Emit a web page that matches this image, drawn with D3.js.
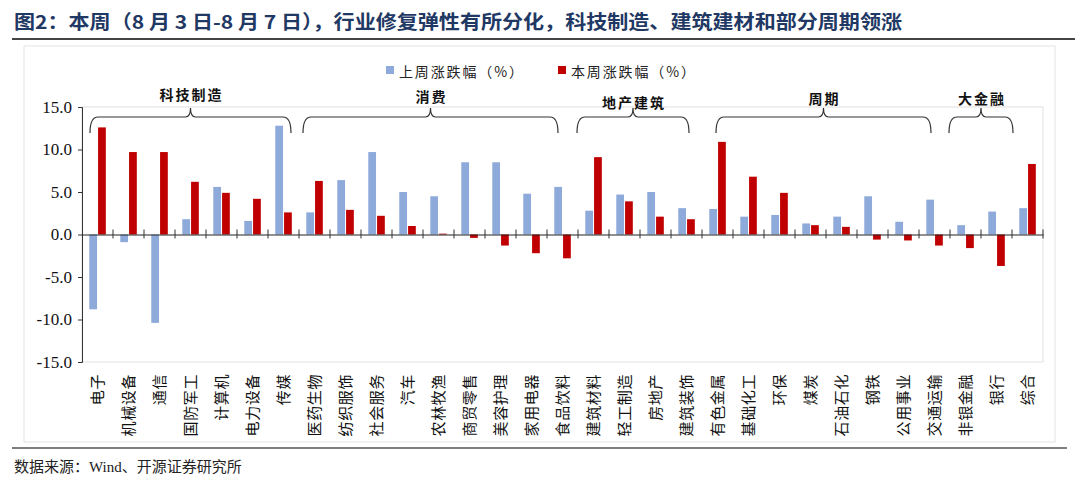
<!DOCTYPE html>
<html>
<head>
<meta charset="utf-8">
<script src="https://cdn.jsdelivr.net/npm/d3@7"></script>
<style>
  body { margin: 0; background: #fff; }
  svg { display: block; }
</style>
</head>
<body>
<div id="chart"></div>
<script>
// industries, left to right
const industries = ['电子', '机械设备', '通信', '国防军工', '计算机', '电力设备', '传媒',
  '医药生物', '纺织服饰', '社会服务', '汽车', '农林牧渔', '商贸零售', '美容护理', '家用电器', '食品饮料',
  '建筑材料', '轻工制造', '房地产', '建筑装饰',
  '有色金属', '基础化工', '环保', '煤炭', '石油石化', '钢铁', '公用事业', '交通运输',
  '非银金融', '银行', '综合'];

const seriesNames = ['上周涨跌幅（%）', '本周涨跌幅（%）'];

const lastWeek = [-8.8, -0.9, -10.4, 1.8, 5.6, 1.6, 12.8,
  2.6, 6.4, 9.7, 5.0, 4.5, 8.5, 8.5, 4.8, 5.6,
  2.8, 4.7, 5.0, 3.1,
  3.0, 2.1, 2.3, 1.3, 2.1, 4.5, 1.5, 4.1,
  1.1, 2.7, 3.1];

const thisWeek = [12.6, 9.7, 9.7, 6.2, 4.9, 4.2, 2.6,
  6.3, 2.9, 2.2, 1.0, 0.1, -0.4, -1.3, -2.2, -2.8,
  9.1, 3.9, 2.1, 1.8,
  10.9, 6.8, 4.9, 1.1, 0.9, -0.6, -0.7, -1.3,
  -1.6, -3.7, 8.3];

const yTicks = [-15, -10, -5, 0, 5, 10, 15];

// sector groups: name, first and last industry
const groupNames = ['科技制造', '消费', '地产建筑', '周期', '大金融'];
const groupFirst = ['电子', '医药生物', '建筑材料', '有色金属', '非银金融'];
const groupLast = ['传媒', '食品饮料', '建筑装饰', '交通运输', '银行'];

// bracket insets (px) from the band edges, and label baseline tweaks
const bracketInsets = [[8, 8], [4, 20], [-1, 13], [14, 19], [-1, -1]];
const labelShift = [0, 2, 8, 4, 4];

const titleText = '图2：本周（8 月 3 日-8 月 7 日），行业修复弹性有所分化，科技制造、建筑建材和部分周期领涨';
const sourceText = '数据来源：Wind、开源证券研究所';

const colors = ['#8eaadb', '#c00000'];
const serif = '"Liberation Serif", "Noto Sans CJK SC", serif';
const cjk = '"Noto Sans CJK SC", sans-serif';

const width = 1080;
const height = 485;

const svg = d3.select('#chart').append('svg')
  .attr('width', width)
  .attr('height', height);

// title + rules
svg.append('text')
  .attr('x', 14)
  .attr('y', 29)
  .attr('font-family', cjk)
  .attr('font-weight', 'bold')
  .attr('font-size', 19)
  .attr('fill', '#1f3864')
  .attr('textLength', 888)
  .attr('lengthAdjust', 'spacingAndGlyphs')
  .text(titleText);

svg.append('line')
  .attr('x1', 12).attr('x2', 1075)
  .attr('y1', 39).attr('y2', 39)
  .attr('stroke', '#444').attr('stroke-width', 2);

// outer chart frame
svg.append('rect')
  .attr('x', 24).attr('y', 46)
  .attr('width', 1031).attr('height', 396)
  .attr('fill', 'none')
  .attr('stroke', '#e3e3e3');

svg.append('line')
  .attr('x1', 12).attr('x2', 1067)
  .attr('y1', 448).attr('y2', 448)
  .attr('stroke', '#555').attr('stroke-width', 1.5);

svg.append('text')
  .attr('x', 14)
  .attr('y', 472)
  .attr('font-family', serif)
  .attr('font-size', 15)
  .attr('fill', '#222')
  .text(sourceText);

// scales
const plot = { left: 82, right: 1043, top: 107, bottom: 362 };

const x = d3.scaleBand()
  .domain(industries)
  .range([plot.left, plot.right])
  .padding(0);

const bw = x.bandwidth();
const x1 = d3.scaleBand()
  .domain(seriesNames)
  .range([bw * 0.235, bw * 0.768])
  .paddingInner(0.12);

const y = d3.scaleLinear()
  .domain([-15, 15])
  .range([plot.bottom, plot.top]);

// plot border (light)
svg.append('rect')
  .attr('x', plot.left).attr('y', plot.top)
  .attr('width', plot.right - plot.left)
  .attr('height', plot.bottom - plot.top)
  .attr('fill', 'none')
  .attr('stroke', '#e0e0e0');

// bars
const seriesData = [lastWeek, thisWeek];
seriesNames.forEach((name, s) => {
  svg.append('g')
    .selectAll('rect')
    .data(industries)
    .enter()
    .append('rect')
    .attr('x', (d) => x(d) + x1(name))
    .attr('width', x1.bandwidth())
    .attr('y', (d, i) => y(Math.max(0, seriesData[s][i])))
    .attr('height', (d, i) => Math.abs(y(seriesData[s][i]) - y(0)))
    .attr('fill', colors[s]);
});

// y axis
const axisY = d3.axisLeft(y)
  .tickValues(yTicks)
  .tickSize(4)
  .tickPadding(6)
  .tickFormat((d) => d.toFixed(1));

const gy = svg.append('g')
  .attr('transform', `translate(${plot.left}, 0)`)
  .call(axisY);
gy.select('.domain').attr('stroke', '#333');
gy.selectAll('.tick line').attr('stroke', '#333');
gy.selectAll('.tick text')
  .attr('font-family', serif)
  .attr('font-size', 17)
  .attr('fill', '#111');

// zero line with category ticks crossing it
const axisX = d3.axisBottom(x).tickSize(0).tickFormat('');
const gx = svg.append('g')
  .attr('transform', `translate(0, ${y(0)})`)
  .call(axisX);
gx.select('.domain').attr('stroke', '#222').attr('stroke-width', 1.2);
gx.selectAll('.tick').remove();

gx.selectAll('.cat-tick')
  .data(industries.slice(1).concat(['end']))
  .enter()
  .append('line')
  .attr('x1', (d, i) => plot.left + (i + 1) * bw)
  .attr('x2', (d, i) => plot.left + (i + 1) * bw)
  .attr('y1', -5)
  .attr('y2', 4)
  .attr('stroke', '#333');

// category labels rotated, reading bottom to top, top-aligned
svg.append('g')
  .selectAll('text')
  .data(industries)
  .enter()
  .append('text')
  .attr('transform', (d) => `translate(${x(d) + bw / 2}, 374) rotate(-90)`)
  .attr('text-anchor', 'end')
  .attr('dy', '0.36em')
  .attr('font-family', cjk)
  .attr('font-size', 15)
  .attr('letter-spacing', 0.6)
  .attr('fill', '#111')
  .text((d) => d);

// group brackets
const yBar = 117;
const yEnd = 133;
const yTip = 108;

groupNames.forEach((name, g) => {
  const L = x(groupFirst[g]) + bracketInsets[g][0];
  const R = x(groupLast[g]) + bw - bracketInsets[g][1];
  const P = (L + R) / 2;
  const path = d3.path();
  path.moveTo(L, yEnd);
  path.quadraticCurveTo(L, yBar, L + 8, yBar);
  path.lineTo(P - 5, yBar);
  path.quadraticCurveTo(P, yBar, P, yTip);
  path.quadraticCurveTo(P, yBar, P + 5, yBar);
  path.lineTo(R - 8, yBar);
  path.quadraticCurveTo(R, yBar, R, yEnd);

  svg.append('path')
    .attr('d', path.toString())
    .attr('fill', 'none')
    .attr('stroke', '#333')
    .attr('stroke-width', 1.2);

  svg.append('text')
    .attr('x', P + 1)
    .attr('y', 100 + labelShift[g])
    .attr('text-anchor', 'middle')
    .attr('font-family', cjk)
    .attr('font-weight', 'bold')
    .attr('font-size', 14)
    .attr('letter-spacing', 2)
    .attr('fill', '#111')
    .text(name);
});

// legend
const legendX = [386, 558];
const legend = svg.append('g');
seriesNames.forEach((name, s) => {
  legend.append('rect')
    .attr('x', legendX[s])
    .attr('y', 66)
    .attr('width', 8)
    .attr('height', 8)
    .attr('fill', colors[s]);
  legend.append('text')
    .attr('x', legendX[s] + 13)
    .attr('y', 77)
    .attr('font-family', cjk)
    .attr('font-size', 14)
    .attr('fill', '#222')
    .attr('textLength', 124)
    .attr('lengthAdjust', 'spacing')
    .text(name);
});
</script>
</body>
</html>
